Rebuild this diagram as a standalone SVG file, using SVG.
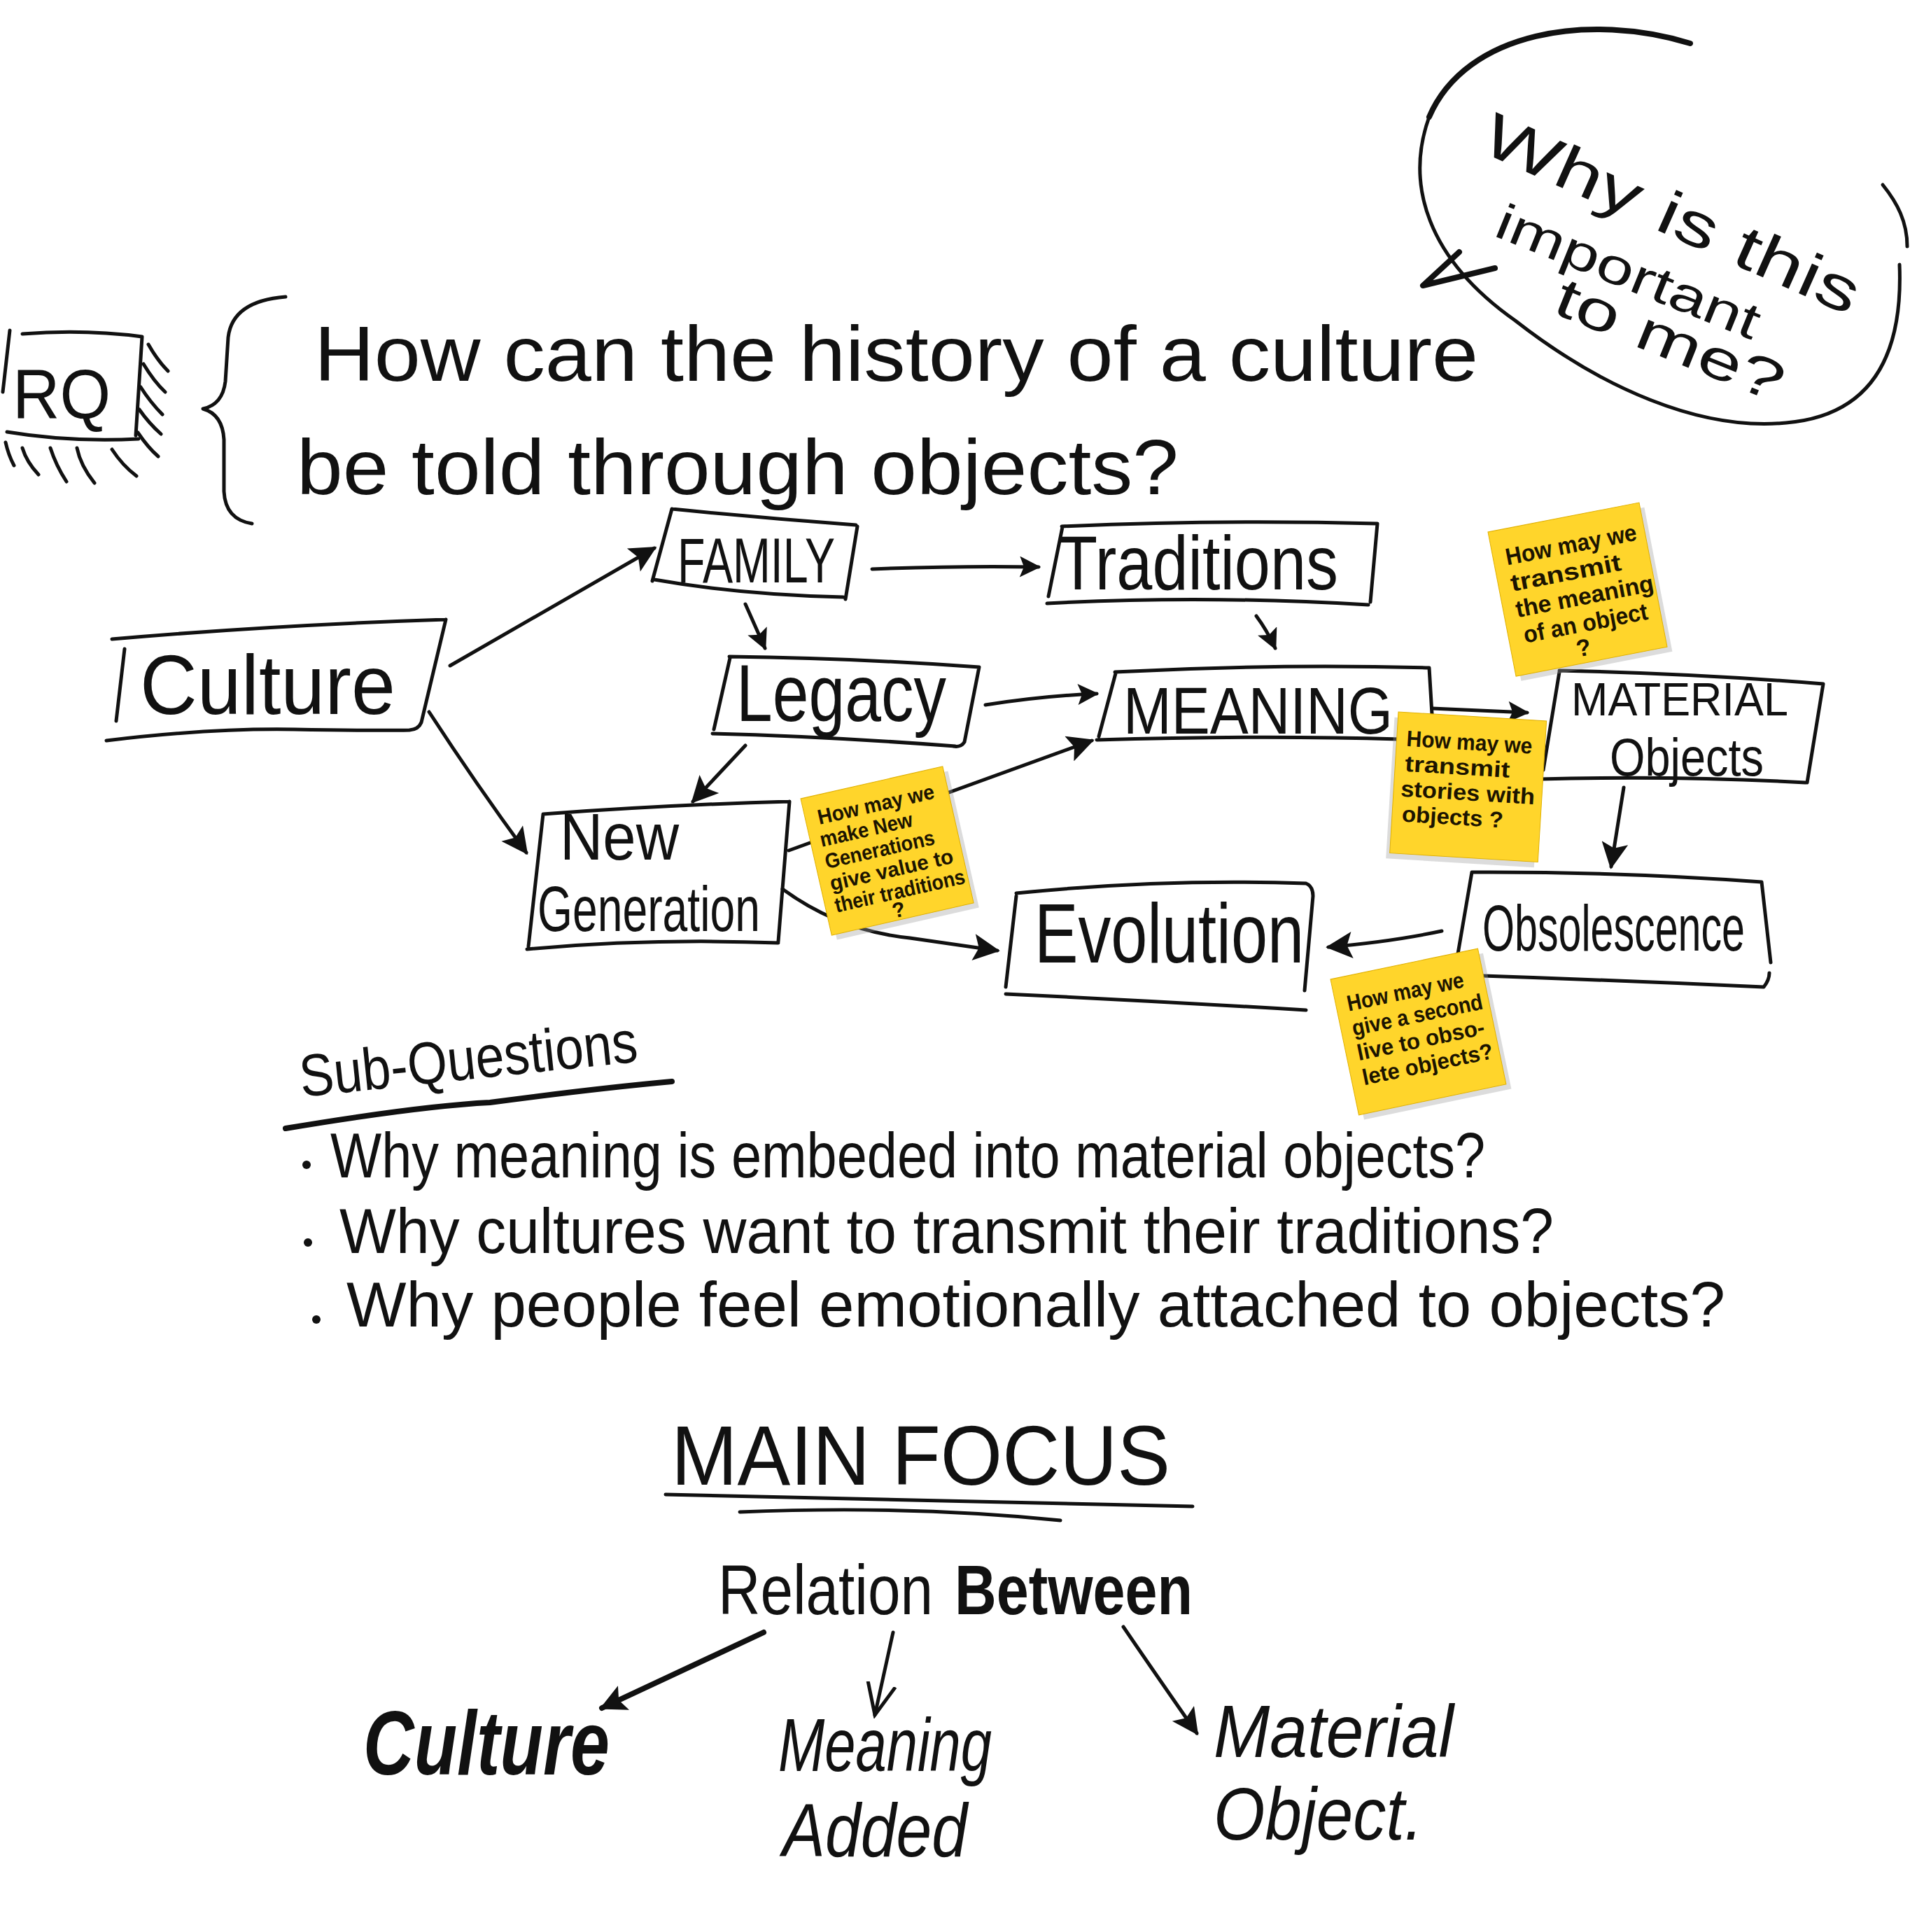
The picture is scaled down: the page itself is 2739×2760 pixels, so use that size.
<svg xmlns="http://www.w3.org/2000/svg" width="2739" height="2760" viewBox="0 0 2739 2760">
<style>
.ink{fill:none;stroke:#111;stroke-width:5;stroke-linecap:round;stroke-linejoin:round}
.thick{stroke-width:8}
.hand{font-family:"Liberation Sans","DejaVu Sans",sans-serif;fill:#111}
.note{fill:#FFD52B;stroke:#E0B000;stroke-width:1}
.shadow{fill:#9a9a9a;opacity:0.35}
.nt{font-family:"Liberation Sans","DejaVu Sans",sans-serif;font-weight:bold;fill:#1c1400}
</style>
<defs>
<marker id="ah" viewBox="0 0 10 10" refX="9" refY="5" markerWidth="44" markerHeight="38" markerUnits="userSpaceOnUse" orient="auto">
<path d="M0,0 L10,5 L0,10 L2,5 Z" fill="#111"/>
</marker>
<marker id="ahs" viewBox="0 0 10 10" refX="9" refY="5" markerWidth="32" markerHeight="30" markerUnits="userSpaceOnUse" orient="auto">
<path d="M0,0 L10,5 L0,10 L2,5 Z" fill="#111"/>
</marker>
<marker id="aho" viewBox="0 0 10 10" refX="9" refY="5" markerWidth="50" markerHeight="50" markerUnits="userSpaceOnUse" orient="auto">
<path d="M0,1 L9,5 L0,9" fill="none" stroke="#111" stroke-width="1"/>
</marker>
</defs>
<rect width="2739" height="2760" fill="#fff"/>

<!-- RQ -->
<g id="rq">
<path class="ink" d="M32,477 Q120,470 203,481 M203,481 L194,622 M10,617 Q100,632 198,627 M14,472 L4,560"/>
<path class="ink" d="M212,492 Q225,515 240,530 M205,520 Q220,545 236,560 M201,553 Q215,575 232,592 M199,585 Q213,605 230,620 M197,618 Q212,640 226,652 M8,632 Q12,650 20,665 M32,640 Q38,660 55,678 M72,640 Q80,665 95,688 M110,640 Q115,665 135,690 M160,642 Q175,665 195,680"/>
<text class="hand" x="18" y="598" font-size="100" textLength="140" lengthAdjust="spacingAndGlyphs">RQ</text>
</g>

<g id="brace">
<path class="ink" d="M408,424 Q332,430 326,482 L322,545 Q318,578 290,584 Q318,592 320,628 L320,702 Q322,742 360,748"/>
</g>

<g id="research-question">
<text class="hand" x="449" y="544" font-size="112" textLength="1663" lengthAdjust="spacingAndGlyphs">How can the history of a culture</text>
<text class="hand" x="424" y="706" font-size="112" textLength="1260" lengthAdjust="spacingAndGlyphs">be told through objects?</text>
</g>

<!-- Speech bubble -->
<g id="bubble">
<path class="ink thick" d="M2415,62 C2271,18 2095,44 2042,167"/>
<path class="ink" d="M2042,167 C2007,264 2040,370 2165,458 C2288,554 2429,616 2552,604 C2658,595 2720,528 2714,378"/>
<path class="ink" d="M2690,264 C2711,290 2725,317 2725,352"/>
<path class="ink thick" d="M2085,360 L2033,408 L2136,383"/>
<text class="hand" transform="translate(2112,215) rotate(24)" font-size="88" textLength="580" lengthAdjust="spacingAndGlyphs">Why is this</text>
<text class="hand" transform="translate(2132,336) rotate(22)" font-size="72" textLength="400" lengthAdjust="spacingAndGlyphs">important</text>
<text class="hand" transform="translate(2216,446) rotate(22)" font-size="80" textLength="345" lengthAdjust="spacingAndGlyphs">to me?</text>
</g>

<!-- Connectors -->
<g id="connectors">
<path class="ink" marker-end="url(#ah)" d="M643,951 L935,783"/>
<path class="ink" marker-end="url(#ah)" d="M613,1017 Q680,1120 752,1218"/>
<path class="ink" marker-end="url(#ahs)" d="M1246,813 Q1370,808 1484,810"/>
<path class="ink" marker-end="url(#ahs)" d="M1065,863 L1093,926"/>
<path class="ink" marker-end="url(#ahs)" d="M1795,880 Q1810,900 1822,926"/>
<path class="ink" marker-end="url(#ahs)" d="M1408,1007 Q1490,994 1567,991"/>
<path class="ink" marker-end="url(#ah)" d="M1065,1065 L990,1145"/>
<path class="ink" marker-end="url(#ah)" d="M1127,1215 L1560,1058"/>
<path class="ink" marker-end="url(#ah)" d="M1118,1270 Q1200,1330 1300,1340 L1425,1358"/>
<path class="ink" marker-end="url(#ahs)" d="M2046,1012 L2182,1018"/>
<path class="ink" marker-end="url(#ah)" d="M2320,1125 L2302,1238"/>
<path class="ink" marker-end="url(#ah)" d="M2060,1330 Q1990,1345 1898,1353"/>
<path class="ink thick" marker-end="url(#ah)" d="M1091,2332 L860,2440"/>
<path class="ink" marker-end="url(#aho)" d="M1276,2332 L1250,2450"/>
<path class="ink" marker-end="url(#ah)" d="M1605,2324 Q1650,2390 1710,2476"/>
</g>

<!-- Nodes -->
<g id="culture">
<path class="ink" d="M160,913 Q390,893 637,885 M637,885 L602,1032 Q598,1042 585,1043 M152,1058 Q300,1040 420,1042 T585,1043 M178,927 L166,1030"/>
<text class="hand" x="200" y="1020" font-size="120" textLength="365" lengthAdjust="spacingAndGlyphs">Culture</text>
</g>
<g id="family">
<path class="ink" d="M960,727 Q1090,740 1223,750 M1225,752 L1208,856 M935,828 Q1060,850 1205,853 M960,727 L932,830"/>
<text class="hand" x="968" y="832" font-size="90" textLength="225" lengthAdjust="spacingAndGlyphs">FAMILY</text>
</g>
<g id="traditions">
<path class="ink" d="M1517,752 Q1740,742 1968,748 M1968,748 L1958,860 M1496,862 Q1720,850 1955,864 M1518,753 L1498,852"/>
<text class="hand" x="1512" y="842" font-size="110" textLength="400" lengthAdjust="spacingAndGlyphs">Traditions</text>
</g>
<g id="legacy">
<path class="ink" d="M1042,938 Q1220,940 1399,953 M1399,953 L1378,1060 Q1373,1068 1362,1066 M1018,1048 Q1180,1052 1365,1066 M1043,940 L1020,1042"/>
<text class="hand" x="1052" y="1030" font-size="115" textLength="300" lengthAdjust="spacingAndGlyphs">Legacy</text>
</g>
<g id="meaning">
<path class="ink" d="M1593,960 Q1820,948 2042,954 M2042,954 L2046,1020 M1567,1057 Q1800,1050 2000,1056 M1594,962 L1570,1052"/>
<text class="hand" x="1605" y="1048" font-size="95" textLength="385" lengthAdjust="spacingAndGlyphs">MEANING</text>
</g>
<g id="material-objects">
<path class="ink" d="M2228,958 Q2420,962 2605,977 M2605,977 L2582,1118 M2200,1113 Q2400,1108 2580,1118 M2228,960 L2205,1100"/>
<text class="hand" x="2245" y="1022" font-size="66" textLength="310" lengthAdjust="spacingAndGlyphs">MATERIAL</text>
<text class="hand" x="2300" y="1108" font-size="76" textLength="220" lengthAdjust="spacingAndGlyphs">Objects</text>
</g>
<g id="new-generation">
<path class="ink" d="M776,1163 Q950,1150 1128,1145 M1128,1145 L1112,1345 M753,1356 Q930,1340 1112,1347 M776,1163 L755,1352"/>
<text class="hand" x="800" y="1228" font-size="95" textLength="170" lengthAdjust="spacingAndGlyphs">New</text>
<text class="hand" x="768" y="1330" font-size="90" textLength="318" lengthAdjust="spacingAndGlyphs">Generation</text>
</g>
<g id="evolution">
<path class="ink" d="M1452,1276 Q1660,1255 1866,1262 Q1876,1266 1876,1280 L1864,1415 M1437,1420 Q1650,1430 1866,1443 M1452,1280 L1437,1410"/>
<text class="hand" x="1478" y="1375" font-size="120" textLength="385" lengthAdjust="spacingAndGlyphs">Evolution</text>
</g>
<g id="obsolescence">
<path class="ink" d="M2103,1246 Q2310,1245 2517,1260 M2517,1260 L2530,1375 M2090,1393 Q2300,1400 2520,1410 Q2528,1400 2528,1390 M2103,1246 L2080,1380"/>
<text class="hand" x="2118" y="1358" font-size="92" textLength="375" lengthAdjust="spacingAndGlyphs">Obsolescence</text>
</g>

<!-- Sticky notes -->
<g id="note-meaning" transform="translate(2126,760) rotate(-11)">
<rect class="shadow" x="6" y="8" width="220" height="210"/>
<rect class="note" x="0" y="0" width="220" height="210"/>
<text class="nt" font-size="34" x="18" y="52" textLength="190" lengthAdjust="spacingAndGlyphs">How may we</text>
<text class="nt" font-size="34" x="18" y="90" textLength="160" lengthAdjust="spacingAndGlyphs">transmit</text>
<text class="nt" font-size="34" x="18" y="128" textLength="200" lengthAdjust="spacingAndGlyphs">the meaning</text>
<text class="nt" font-size="34" x="22" y="166" textLength="180" lengthAdjust="spacingAndGlyphs">of an object</text>
<text class="nt" font-size="34" x="92" y="200">?</text>
</g>
<g id="note-stories" transform="translate(1998,1017) rotate(3.5)">
<rect class="shadow" x="-5" y="8" width="212" height="202"/>
<rect class="note" x="0" y="0" width="212" height="202"/>
<text class="nt" font-size="32" x="14" y="48" textLength="180" lengthAdjust="spacingAndGlyphs">How may we</text>
<text class="nt" font-size="32" x="14" y="84" textLength="150" lengthAdjust="spacingAndGlyphs">transmit</text>
<text class="nt" font-size="32" x="10" y="120" textLength="192" lengthAdjust="spacingAndGlyphs">stories with</text>
<text class="nt" font-size="32" x="14" y="156" textLength="145" lengthAdjust="spacingAndGlyphs">objects ?</text>
</g>
<g id="note-generations" transform="translate(1144,1141) rotate(-12.8)">
<rect class="shadow" x="6" y="8" width="208" height="200"/>
<rect class="note" x="0" y="0" width="208" height="200"/>
<text class="nt" font-size="30" x="18" y="42" textLength="170" lengthAdjust="spacingAndGlyphs">How may we</text>
<text class="nt" font-size="30" x="14" y="74" textLength="135" lengthAdjust="spacingAndGlyphs">make New</text>
<text class="nt" font-size="30" x="14" y="106" textLength="160" lengthAdjust="spacingAndGlyphs">Generations</text>
<text class="nt" font-size="30" x="14" y="138" textLength="180" lengthAdjust="spacingAndGlyphs">give value to</text>
<text class="nt" font-size="30" x="14" y="170" textLength="190" lengthAdjust="spacingAndGlyphs">their traditions</text>
<text class="nt" font-size="30" x="92" y="196">?</text>
</g>
<g id="note-obsolete" transform="translate(1901,1399) rotate(-11.8)">
<rect class="shadow" x="6" y="8" width="215" height="198"/>
<rect class="note" x="0" y="0" width="215" height="198"/>
<text class="nt" font-size="32" x="16" y="50" textLength="170" lengthAdjust="spacingAndGlyphs">How may we</text>
<text class="nt" font-size="32" x="16" y="86" textLength="190" lengthAdjust="spacingAndGlyphs">give a second</text>
<text class="nt" font-size="32" x="16" y="122" textLength="185" lengthAdjust="spacingAndGlyphs">live to obso-</text>
<text class="nt" font-size="32" x="16" y="158" textLength="190" lengthAdjust="spacingAndGlyphs">lete objects?</text>
</g>

<!-- Sub-questions -->
<g id="sub-questions">
<text class="hand" transform="translate(431,1567) rotate(-6)" font-size="85" textLength="485" lengthAdjust="spacingAndGlyphs">Sub-Questions</text>
<path class="ink thick" d="M408,1612 Q600,1580 700,1575 Q850,1555 960,1545"/>
<circle cx="438" cy="1664" r="6" fill="#111"/>
<circle cx="440" cy="1775" r="6" fill="#111"/>
<circle cx="452" cy="1885" r="6" fill="#111"/>
<text class="hand" x="472" y="1682" font-size="90" textLength="1650" lengthAdjust="spacingAndGlyphs">Why meaning is embeded into material objects?</text>
<text class="hand" x="485" y="1790" font-size="90" textLength="1735" lengthAdjust="spacingAndGlyphs">Why cultures want to transmit their traditions?</text>
<text class="hand" x="495" y="1895" font-size="90" textLength="1970" lengthAdjust="spacingAndGlyphs">Why people feel emotionally attached to objects?</text>
</g>

<!-- Main focus -->
<g id="main-focus">
<text class="hand" x="959" y="2121" font-size="120" textLength="713" lengthAdjust="spacingAndGlyphs">MAIN FOCUS</text>
<path class="ink" d="M951,2135 Q1300,2142 1704,2152"/>
<path class="ink" d="M1057,2160 Q1300,2150 1515,2172"/>
</g>
<g id="relation-between">
<text class="hand" x="1026" y="2306" font-size="100" textLength="307" lengthAdjust="spacingAndGlyphs">Relation</text>
<text class="hand" x="1364" y="2306" font-size="100" font-weight="bold" textLength="340" lengthAdjust="spacingAndGlyphs">Between</text>
</g>
<g id="focus-culture">
<text class="hand" x="519" y="2535" font-size="130" font-weight="bold" font-style="italic" textLength="352" lengthAdjust="spacingAndGlyphs">Culture</text>
</g>
<g id="focus-meaning">
<text class="hand" x="1112" y="2530" font-size="108" font-style="italic" textLength="305" lengthAdjust="spacingAndGlyphs">Meaning</text>
<text class="hand" x="1118" y="2652" font-size="108" font-style="italic" textLength="264" lengthAdjust="spacingAndGlyphs">Added</text>
</g>
<g id="focus-material">
<text class="hand" x="1734" y="2510" font-size="105" font-style="italic" textLength="343" lengthAdjust="spacingAndGlyphs">Material</text>
<text class="hand" x="1734" y="2628" font-size="105" font-style="italic" textLength="299" lengthAdjust="spacingAndGlyphs">Object.</text>
</g>
</svg>
